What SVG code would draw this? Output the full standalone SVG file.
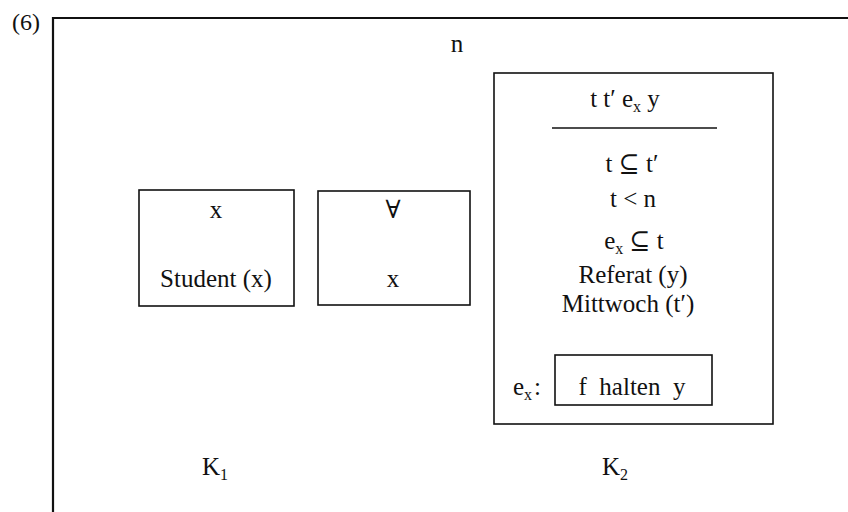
<svg xmlns="http://www.w3.org/2000/svg" width="848" height="512" viewBox="0 0 848 512">
<style>
text{font-family:"Liberation Serif","DejaVu Serif",serif;font-size:25px;fill:#111}
.m{text-anchor:middle}
.box{fill:none;stroke:#111;stroke-width:1.6}
.frame{fill:none;stroke:#111;stroke-width:2.2}
.sub{font-size:16px}
</style>
<rect width="848" height="512" fill="#fff"/>
<text x="12" y="30" style="font-size:24px">(6)</text>
<g id="frame">
<path class="frame" d="M53,512 V18 H848"/>
</g>
<text class="m" x="457" y="52">n</text>
<g id="K1-box1">
<rect class="box" x="139" y="190" width="155" height="116"/>
<text class="m" x="216" y="218">x</text>
<text class="m" x="216" y="287">Student (x)</text>
</g>
<g id="K1-box2">
<rect class="box" x="318" y="191" width="152" height="114"/>
<text class="m" x="393" y="218">∀</text>
<text class="m" x="393" y="287">x</text>
</g>
<g id="K2">
<rect class="box" x="494" y="73" width="279" height="351"/>
<text class="m" x="625" y="107">t t′ e<tspan class="sub" dy="5">x</tspan><tspan dy="-5"> y</tspan></text>
<line x1="552" y1="128" x2="717" y2="128" stroke="#111" stroke-width="1.6"/>
<text class="m" x="632" y="172">t ⊆ t′</text>
<text class="m" x="633" y="207">t &lt; n</text>
<text class="m" x="634" y="249">e<tspan class="sub" dy="5">x</tspan><tspan dy="-5"> ⊆ t</tspan></text>
<text class="m" x="633" y="283">Referat (y)</text>
<text class="m" x="628" y="312">Mittwoch (t′)</text>
<text x="513" y="395">e<tspan class="sub" dy="5">x</tspan><tspan dy="-5" dx="2">:</tspan></text>
<g id="K2-inner">
<rect class="box" x="555" y="355" width="157" height="50"/>
<text class="m" x="632" y="395" xml:space="preserve">f  halten  y</text>
</g>
</g>
<text x="202" y="475">K<tspan class="sub" dy="5">1</tspan></text>
<text x="602" y="475">K<tspan class="sub" dy="5">2</tspan></text>
</svg>
